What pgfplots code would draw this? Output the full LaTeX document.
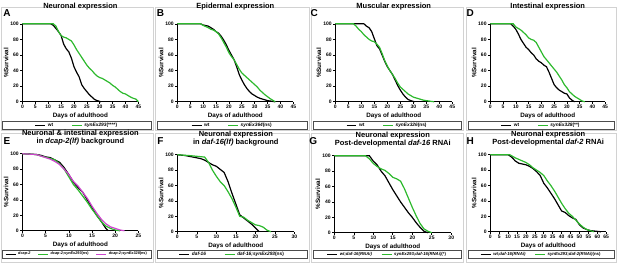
\documentclass[border=0pt]{standalone}
\usepackage{fontspec}
\setmainfont{Liberation Sans}
\usepackage{pgfplots}
\pgfplotsset{compat=1.18}
\definecolor{kmgreen}{RGB}{45,185,45}
\definecolor{kmmag}{RGB}{205,70,205}
\pgfplotsset{
 km/.style={
  scale only axis, axis lines*=left, ymin=0, ymax=100, ytick={0,20,40,60,80,100}, xmin=0,
  tick align=outside, major tick length=2pt,
  axis line style={-, line width=0.75pt},
  x axis line style={-}, y axis line style={-},
  every tick/.style={black,line width=0.6pt},
  tick label style={font=\fontsize{5}{5.5}\selectfont\bfseries},
  xticklabel style={inner sep=1.5pt},
  yticklabel style={inner sep=1.5pt},
  /pgf/number format/assume math mode=true,
  xlabel={Days of adulthood}, ylabel={\%Survival},
  label style={font=\fontsize{6.3}{7}\selectfont\bfseries},
  xlabel style={at={(axis description cs:0.5,0)}, anchor=center, yshift=-14pt},
  ylabel style={at={(axis description cs:-0.14,0.5)}, anchor=center},
  title style={font=\fontsize{7.5}{8.3}\selectfont\bfseries, at={(axis description cs:0.5,1)}, anchor=center, align=center},
  clip=false,
  legend columns=-1,
  legend style={draw=none, fill=none, anchor=center, font=\fontsize{4.8}{5.5}\selectfont\bfseries, inner sep=0pt, /tikz/every even column/.append style={column sep=16pt}},
  legend image code/.code={\draw[##1] (0pt,0pt) -- (10pt,0pt);},
  every axis plot/.append style={line width=1.2pt, no marks},
 },
 top/.style={width=116pt, height=78pt, xmax=45, xtick={0,5,...,45}, title style={yshift=11pt}},
 bot/.style={height=77pt, title style={yshift=10pt}},
}
\begin{document}
\begin{tikzpicture}[x=1pt,y=1pt]
% panel borders
\foreach \a/\b in {0.5/153,155/309,311/463,466/616.5}{
  \draw[gray!35, line width=0.6pt] (\a,132) rectangle (\b,255.5);
  \draw[gray!35, line width=0.6pt] (\a,0.5) rectangle (\b,129);
}
\foreach \a/\b in {2/151,157/307,313/461,468/614}{
  \draw[black!70, line width=0.5pt] (\a,133.5) rectangle (\b,141.5);
  \draw[black!70, line width=0.5pt] (\a,4) rectangle (\b,12.5);
}
\foreach \x/\y/\t in {6.5/250/A,160/250/B,314/250/C,470/250/D,6.5/122/E,160/122/F,313/122/G,470/122/H}{
  \node[font=\fontsize{10}{10}\selectfont\bfseries] at (\x,\y) {\t};
}

% A
\begin{axis}[km, top, at={(22pt,161pt)}, anchor=south west,
  title={Neuronal expression},
  legend style={at={(axis description cs:0.47,-0.308)}}]
\addplot[black] coordinates {(0,100)(11,100)(12,98)(13,94)(14,90)(15,85)(16,74)(17,68)(18,64)(19,56)(20,45)(21,38)(22,32)(23,22)(24,17)(25,13)(26,9)(27,6)(28,3)(29,1.5)(30,0.5)(30.5,0)};
\addplot[kmgreen] coordinates {(0,100)(12,100)(13,97)(14,90)(15,85)(16,83)(17,82)(18,80)(19,78)(20,73)(21,67)(22,62)(23,57)(24,52)(25,47)(26,43)(27,40)(28,36)(29,33)(30,31)(31,30)(32,28)(33,26)(34,24)(35,21)(36,19)(37,16)(38,13)(39,11)(40,10)(41,8)(42,6)(43,4.5)(44,3.5)(44.5,2)(45,0)};
\legend{wt, \textit{synEx293}(****)}
\end{axis}

% B
\begin{axis}[km, top, at={(177pt,161pt)}, anchor=south west,
  title={Epidermal expression},
  legend style={at={(axis description cs:0.474,-0.308)}}]
\addplot[black] coordinates {(0,100)(9,100)(10,98.5)(12,97)(14,93)(15,90)(16,88)(17,84)(18,79)(19,73)(20,66)(21,60)(22,54)(23,45)(24,35)(25,28)(26,22)(27,17)(28,13)(29,10)(30,8)(31,6)(32,4.5)(33,3.5)(34,2.5)(35,1.5)(36,1)(37,0.5)(38,0)};
\addplot[kmgreen] coordinates {(0,100)(9,100)(10,98)(12,95)(13,93)(14,92)(15,90)(16,87)(17,82)(18,76)(19,70)(20,63)(21,58)(22,54)(23,48)(24,42)(25,37)(26,34)(27,31)(28,28)(29,25)(30,22)(31,19)(32,15)(33,12)(34,9)(35,6.5)(36,4)(37,2)(38,0)};
\legend{wt, \textit{synEx364}(ns)}
\end{axis}

% C
\begin{axis}[km, top, width=117pt, at={(335pt,161pt)}, anchor=south west,
  title={Muscular expression},
  legend style={at={(axis description cs:0.444,-0.308)}}]
\addplot[black] coordinates {(0,100)(11,100)(12,97)(13,95)(14,90)(15,81)(16,72)(17,68)(18,60)(19,52)(20,45)(21,40)(22,35)(23,28)(24,21)(25,15)(26,10)(27,6)(28,3)(29,1.5)(30,0.5)(30.5,0)};
\addplot[kmgreen] coordinates {(0,100)(7,100)(8,97)(9,93)(10,90)(11,86)(12,83)(13,80)(14,78)(15,77)(16,74)(17,70)(18,62)(19,53)(20,46)(21,40)(22,35)(23,30)(24,24)(25,19)(26,16)(27,13)(28,10)(29,8)(30,6)(31,5)(32,4)(33,3)(34,2)(35,1.5)(36,1)(37,0.5)(38,0)};
\legend{wt, \textit{synEx326}(ns)}
\end{axis}

% D
\begin{axis}[km, top, width=115pt, at={(490pt,161pt)}, anchor=south west,
  title={Intestinal expression},
  legend style={at={(axis description cs:0.443,-0.308)}}]
\addplot[black] coordinates {(0,100)(8,100)(9,97)(10,93)(11,87)(12,80)(13,75)(14,70)(15,67)(16,63)(17,60)(18,55)(19,52)(20,50)(21,47)(22,45)(23,38)(24,30)(25,22)(26,18)(27,15)(28,13)(29,11)(30,10)(31,5)(32,2)(33,0)};
\addplot[kmgreen] coordinates {(0,100)(9,100)(10,96)(11,94)(12,92)(13,89)(14,86)(15,82)(16,80)(17,79)(18,76)(19,70)(20,64)(21,58)(22,54)(23,50)(24,46)(25,42)(26,38)(27,33)(28,28)(29,22)(30,18)(31,13)(32,10)(33,7)(34,5)(35,3)(36,1)(37,0)};
\legend{wt, \textit{synEx328}(**)}
\end{axis}

% E
\begin{axis}[km, bot, width=116pt, at={(22pt,32pt)}, anchor=south west,
  xmax=25, xtick={0,5,...,25},
  title={Neuronal \& intestinal expression\\in \textit{dcap-2(lf)} background},
  legend style={at={(axis description cs:0.47,-0.305)}, font=\fontsize{3.8}{4.2}\selectfont\bfseries, /tikz/every even column/.append style={column sep=5pt}}]
\addplot[black] coordinates {(0,100)(2,99.5)(3,99)(4,98)(5,96)(6,95)(7,92)(8,89)(9,82)(10,73)(11,63)(12,56)(13,50)(14,40)(15,30)(16,20)(17,12)(18,3)(18.5,0)};
\addplot[kmgreen] coordinates {(0,100)(3,99)(4,97)(5,95.5)(6,94)(7,92)(8,87)(9,80)(10,70)(11,60)(12,53)(13,45)(14,37)(15,28)(16,20)(17,12)(18,6)(19,3)(20,1)(21,0)};
\addplot[kmmag] coordinates {(0,100)(3,99)(4,97)(5,95)(6,93)(7,90)(8,86)(9,80)(10,73)(11,64)(12,58)(13,50)(14,42)(15,32)(16,23)(17,15)(18,9)(19,5)(20,3)(21,1)(22,0)};
\legend{\textit{dcap-2}, \textit{dcap-2;synEx293}(ns), \textit{dcap-2;synEx328}(ns)}
\end{axis}

% F
\begin{axis}[km, bot, width=117pt, at={(177pt,31pt)}, anchor=south west,
  xmax=30, xtick={0,5,...,30},
  title={Neuronal expression\\in \textit{daf-16(lf)} background},
  legend style={at={(axis description cs:0.47,-0.292)}}]
\addplot[black] coordinates {(0,100)(2,99)(4,97)(5,96)(6,95)(7,93)(8,90)(9,87)(10,85)(11,81)(12,77)(13,65)(14,50)(15,36)(16,22)(17,18)(18,14)(19,10)(20,5)(21,0)};
\addplot[kmgreen] coordinates {(0,100)(3,99)(5,98)(7,97)(8,90)(9,80)(10,72)(11,65)(12,60)(13,52)(14,43)(15,32)(16,20)(17,19)(18,15)(19,12)(20,9)(21,8)(22,6)(23,2)(24,0)};
\legend{\textit{daf-16}, \textit{daf-16;synEx293}(ns)}
\end{axis}

% G
\begin{axis}[km, bot, width=117pt, at={(334pt,30pt)}, anchor=south west,
  xmax=30, xtick={0,5,...,30},
  title={Neuronal expression\\Post-developmental \textit{daf-16} RNAi},
  legend style={at={(axis description cs:0.453,-0.279)}, font=\fontsize{4.3}{5}\selectfont\bfseries, /tikz/every even column/.append style={column sep=7pt}}]
\addplot[black] coordinates {(0,100)(9,100)(10,93)(11,88)(12,80)(13,74)(14,65)(15,56)(16,48)(17,40)(18,33)(19,26)(20,20)(21,13)(22,7)(23,2)(24,0)};
\addplot[kmgreen] coordinates {(0,100)(8,100)(9,96)(10,90)(11,86)(12,83)(13,81)(14,77)(15,72)(16,70)(17,67)(18,57)(19,45)(20,33)(21,22)(22,12)(23,5)(24,2)(25,0)};
\legend{\textit{wt;daf-16(RNAi)}, \textit{synEx293;daf-16(RNAi)}(*)}
\end{axis}

% H
\begin{axis}[km, bot, width=116pt, at={(490pt,31pt)}, anchor=south west,
  xmax=65, xtick={0,5,...,65},
  title={Neuronal expression\\Post-developmental \textit{daf-2} RNAi},
  legend style={at={(axis description cs:0.44,-0.292)}, font=\fontsize{4.3}{5}\selectfont\bfseries, /tikz/every even column/.append style={column sep=7pt}}]
\addplot[black] coordinates {(0,100)(10,100)(12,97)(14,92)(16,89)(18,88)(20,87)(22,85)(24,82)(26,78)(28,73)(30,63)(32,57)(34,50)(36,43)(38,35)(40,27)(42,25)(44,21)(46,18)(48,16)(50,9)(52,5)(54,3)(56,1.5)(58,1)(60,0.5)(62,0)};
\addplot[kmgreen] coordinates {(0,100)(11,100)(14,96)(16,94)(18,92)(20,90)(22,87)(24,83)(26,80)(28,77)(30,73)(32,66)(34,60)(36,53)(38,45)(40,37)(42,30)(44,24)(46,20)(48,15)(50,10)(52,6)(54,3)(56,1.5)(58,0)};
\legend{\textit{wt;daf-16(RNAi)}, \textit{synEx293;daf-2(RNAi)}(ns)}
\end{axis}
\end{tikzpicture}
\end{document}
